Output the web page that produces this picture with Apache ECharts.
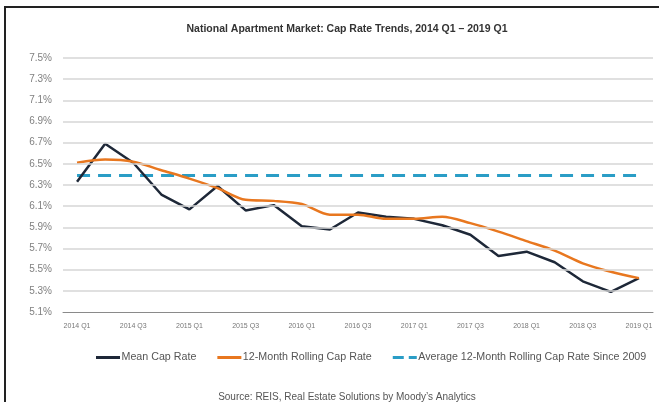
<!DOCTYPE html>
<html lang="en">
<head>
    <meta charset="UTF-8">
    <title>National Apartment Market: Cap Rate Trends</title>
    <script src="https://cdn.jsdelivr.net/npm/echarts@6.0.0/dist/echarts.min.js"></script>
    <style>
        html, body, #chart {
            width: 659px;
            height: 402px;
            padding: 0;
            margin: 0;
            background: #fff;
        }
    </style>
</head>
<body>
<div id="chart"></div>
<script>
    var quarters = [
        "2014 Q1", "2014 Q2", "2014 Q3", "2014 Q4",
        "2015 Q1", "2015 Q2", "2015 Q3", "2015 Q4",
        "2016 Q1", "2016 Q2", "2016 Q3", "2016 Q4",
        "2017 Q1", "2017 Q2", "2017 Q3", "2017 Q4",
        "2018 Q1", "2018 Q2", "2018 Q3", "2018 Q4",
        "2019 Q1"
    ];
    var meanCapRate = [6.33, 6.69, 6.51, 6.21, 6.07, 6.29, 6.06, 6.11, 5.91, 5.88,
        6.04, 6.00, 5.98, 5.92, 5.83, 5.63, 5.67, 5.57, 5.39, 5.29, 5.42];
    var rollingCapRate = [6.51, 6.54, 6.52, 6.44, 6.36, 6.27, 6.16, 6.15, 6.12, 6.02,
        6.02, 5.98, 5.98, 6.00, 5.94, 5.86, 5.77, 5.68, 5.56, 5.48, 5.42];
    var averageSince2009 = 6.39;
    var yTicks = [5.1, 5.3, 5.5, 5.7, 5.9, 6.1, 6.3, 6.5, 6.7, 6.9, 7.1, 7.3, 7.5];

    var averageLine = quarters.map(function () { return averageSince2009; });

    var myChart = echarts.init(document.getElementById("chart"));

    myChart.setOption({
        backgroundColor: "#fff",
        animation: false,
        title: [{
            text: "National Apartment Market: Cap Rate Trends, 2014 Q1 \u2013 2019 Q1",
            left: 342,
            top: 19,
            textAlign: "center",
            textStyle: {
                fontFamily: "Liberation Sans",
                fontSize: 10.5,
                fontWeight: "bold",
                color: "#333"
            }
        }, {
            text: "Source: REIS, Real Estate Solutions by Moody\u2019s Analytics",
            left: 342,
            top: 387,
            textAlign: "center",
            textStyle: {
                fontFamily: "Liberation Sans",
                fontSize: 10,
                fontWeight: "normal",
                color: "#555"
            }
        }],
        legend: {
            data: [
                { name: "Mean Cap Rate", icon: "path://M0,0h24v3h-24z" },
                { name: "12-Month Rolling Cap Rate", icon: "path://M0,0h24v3h-24z" },
                { name: "Average 12-Month Rolling Cap Rate Since 2009", icon: "path://M0,0h11v3h-11z M16,0h8v3h-8z" }
            ],
            left: 91,
            top: 347,
            itemWidth: 25,
            itemHeight: 3,
            itemGap: 21,
            textStyle: {
                fontFamily: "Liberation Sans",
                fontSize: 10.7,
                color: "#555",
                padding: [0, 0, 0, -4]
            }
        },
        grid: {
            left: 63,
            right: 6,
            top: 58,
            bottom: 90
        },
        xAxis: {
            type: "category",
            data: quarters,
            boundaryGap: true,
            axisLine: { lineStyle: { color: "#8a8a8a", width: 1 } },
            axisTick: { show: false },
            axisLabel: {
                interval: 1,
                margin: 11,
                fontFamily: "Liberation Sans",
                fontSize: 7,
                color: "#777"
            },
            splitLine: { show: false }
        },
        yAxis: {
            type: "value",
            min: 5.1,
            max: 7.5,
            interval: 0.1,
            axisLine: { show: false },
            axisTick: { show: false },
            splitLine: { show: false },
            axisLabel: {
                margin: 11,
                fontFamily: "Liberation Sans",
                fontSize: 10,
                color: "#808080",
                formatter: function (v) {
                    for (var i = 0; i < yTicks.length; i++) {
                        if (Math.abs(yTicks[i] - v) < 1e-6) {
                            return yTicks[i].toFixed(1) + "%";
                        }
                    }
                    return "";
                }
            }
        },
        series: [{
            name: "grid",
            type: "line",
            data: [],
            silent: true,
            markLine: {
                silent: true,
                symbol: "none",
                label: { show: false },
                lineStyle: { color: "#d6d6d6", width: 1.5, type: "solid" },
                data: yTicks.slice(1).map(function (t) { return { yAxis: t }; })
            }
        }, {
            name: "Average 12-Month Rolling Cap Rate Since 2009",
            type: "line",
            data: averageLine,
            symbol: "none",
            itemStyle: { color: "#2a9dc6" },
            lineStyle: { color: "#2a9dc6", width: 3, type: [13, 8] }
        }, {
            name: "Mean Cap Rate",
            type: "line",
            data: meanCapRate,
            symbol: "none",
            itemStyle: { color: "#1e2838" },
            lineStyle: { color: "#1e2838", width: 2.5 }
        }, {
            name: "12-Month Rolling Cap Rate",
            type: "line",
            data: rollingCapRate,
            symbol: "none",
            smooth: 0.3,
            itemStyle: { color: "#e8771f" },
            lineStyle: { color: "#e8771f", width: 2.5 }
        }],
        graphic: [{
            type: "polyline",
            shape: { points: [[5, 402], [5, 7], [659, 7]] },
            style: { stroke: "#222", lineWidth: 2, fill: null }
        }]
    });
</script>
</body>
</html>
